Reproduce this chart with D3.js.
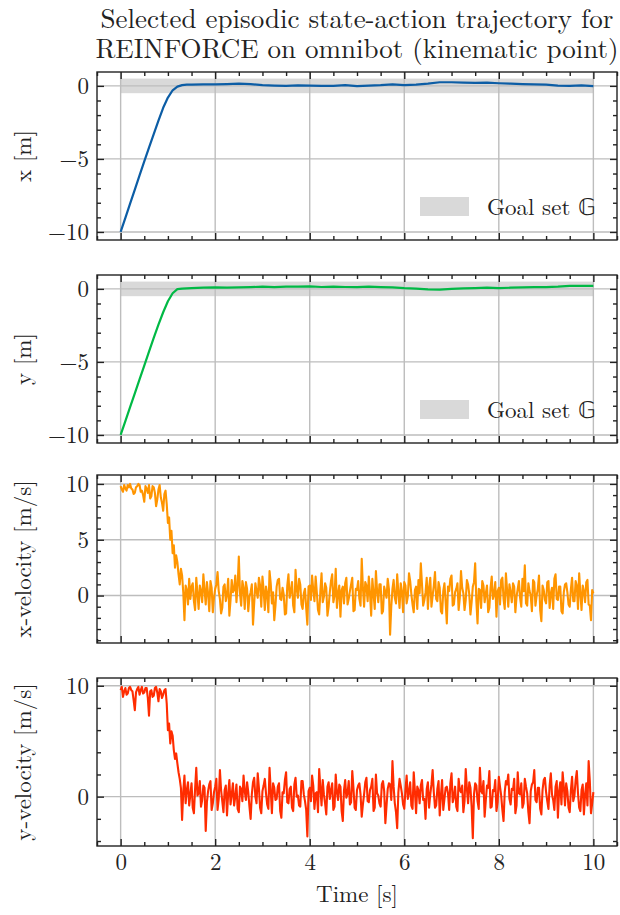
<!DOCTYPE html>
<html>
<head>
<meta charset="utf-8">
<script src="https://cdn.jsdelivr.net/npm/d3@7"></script>
<style>
body { margin: 0; background: #fff; }
.axis path { display: none; }
.axis line { stroke: #222; stroke-width: 1.4; }
</style>
</head>
<body>
<div class="chart"></div>
<script>
//position samples (s)
const posTimes = [0, 0.1, 0.2, 0.3, 0.4, 0.5, 0.6, 0.7, 0.8, 0.9, 1.0, 1.1, 1.2, 1.3, 1.4,
    1.5, 1.75, 2, 2.25, 2.5, 2.75, 3, 3.25, 3.5, 3.75, 4, 4.25, 4.5, 4.75, 5, 5.25, 5.5, 5.75,
    6, 6.25, 6.5, 6.75, 7, 7.25, 7.5, 7.75, 8, 8.25, 8.5, 8.75, 9, 9.25, 9.5, 9.75, 10];

const xPosition = [-10, -9.03, -8.06, -7.1, -6.13, -5.17, -4.22, -3.3, -2.38, -1.5, -0.8, -0.3, -0.05, 0.05, 0.08,
    0.08, 0.1, 0.1, 0.12, 0.15, 0.12, 0.05, 0.02, 0.0, 0.03, 0.02, 0.0, 0.0, 0.05, -0.02, 0.02, 0.05, 0.1,
    0.05, 0.08, 0.15, 0.25, 0.25, 0.22, 0.2, 0.22, 0.18, 0.15, 0.12, 0.1, 0.08, 0.02, 0.0, 0.03, -0.02];

const yPosition = [-10, -9.05, -8.1, -7.15, -6.2, -5.25, -4.3, -3.36, -2.45, -1.6, -0.85, -0.3, -0.02, 0.02, 0.04,
    0.05, 0.08, 0.1, 0.08, 0.1, 0.12, 0.15, 0.12, 0.15, 0.15, 0.17, 0.13, 0.15, 0.13, 0.12, 0.15, 0.12, 0.1,
    0.05, 0.02, -0.03, -0.05, 0.0, 0.03, 0.05, 0.08, 0.05, 0.08, 0.1, 0.12, 0.12, 0.15, 0.2, 0.2, 0.2];

//velocity actions, one every 0.025 s
const velStep = 0.025;
const xVelocity = [
    9.8, 9.5, 9.3, 9.9, 9.6, 9.4, 9.9, 9.7, 10.0, 9.6, 9.5, 9.1, 9.2, 9.7, 9.8, 10.0, 9.9, 9.3, 9.4, 9.0,
    8.4, 9.8, 9.6, 9.2, 9.9, 8.7, 8.9, 9.8, 9.7, 9.2, 8.0, 8.6, 9.5, 9.9, 8.8, 8.3, 7.6, 9.1, 9.4, 8.2,
    6.5, 7.0, 5.0, 5.8, 3.8, 4.5, 2.5, 3.6, 3.0, 1.9, 1.0, 2.4, 1.8, 0.3, -2.2, 0.9, 0.5, -0.8, 1.5, -0.3,
    0.8, 1.1, -0.5, -1.3, 1.6, 0.2, -1.2, 0.9, 0.4, -0.6, 1.9, 0.5, -0.8, 1.2, 0.2, -1.4, 1.3, 0.7, -1.5, -0.2,
    0.6, 1.0, 2.1, 0.4, -0.3, -1.6, -1.1, 0.8, 1.0, -0.5, 0.1, 1.5, -1.8, -0.4, 1.4, 0.3, 0.5, 1.8, -0.6, 0.9,
    3.5, 0.2, -0.9, 1.3, 0.7, -1.2, 1.2, 0.6, -1.4, -0.1, 0.3, 1.0, -2.6, -0.7, 1.1, 0.4, -0.2, 1.6, 0.9, -1.0,
    1.7, 0.5, -1.3, 0.8, 0.2, -1.5, 2.2, 1.1, -0.7, 0.3, -2.2, -0.9, 0.8, 1.4, 1.5, -0.3, -0.4, 0.7, 0.1, -1.7,
    -1.6, 0.9, 1.9, -0.2, 0.4, 1.2, -0.9, -1.5, 2.3, 0.6, -0.2, 1.5, 1.0, -0.8, -1.2, 0.2, 0.6, -1.1, -2.6, 0.8,
    0.9, -0.4, 1.8, 0.5, -0.5, 1.7, 0.3, -1.3, -1.7, 0.4, 2.0, -0.6, -0.1, 1.1, 0.7, -1.8, -1.0, 0.3, 1.3, 1.9,
    -0.6, 0.0, 2.4, -1.1, 0.2, 0.9, -1.9, 0.5, 0.8, -0.7, 1.1, 1.6, -0.8, -0.3, 0.4, 1.0, 1.6, -1.4, -1.3, 0.6,
    0.5, 1.3, -0.3, -0.9, 3.3, 0.7, -1.0, 1.2, 0.9, -0.5, 1.7, 0.2, -1.8, 1.5, 0.2, -1.2, 2.2, 0.4, -0.6, 1.0,
    1.0, -1.6, -1.4, 0.8, 0.3, -0.2, 1.5, 0.6, -3.5, -1.0, 0.6, 1.4, -0.2, -0.7, 1.9, 0.3, -1.1, 1.1, 0.4, -1.5,
    1.2, 0.9, -0.7, -0.1, 2.0, 1.3, 0.1, -0.8, -1.5, 0.5, 0.8, -1.2, 1.4, 0.2, 2.9, 1.0, -0.9, -0.4, 0.3, 1.6,
    -1.2, 0.7, 1.6, -1.0, 0.0, 0.9, 2.1, -0.3, -0.5, 1.2, 0.7, -1.4, -1.6, 0.4, 1.1, -0.6, -2.5, 0.8, 0.4, 1.5,
    1.8, -0.9, -0.8, 0.3, 0.6, 1.1, -1.3, -0.2, 2.2, 0.7, 0.2, -1.3, -0.4, 1.4, 1.0, 0.1, -1.7, -0.6, 0.8, 1.2,
    2.9, -0.5, -2.5, 0.6, 0.5, -1.1, 1.3, 0.9, -0.6, 0.2, 0.9, -1.5, -1.1, 0.7, 1.7, -0.3, 0.1, 1.2, -1.9, 0.4,
    0.7, -0.8, 1.4, 1.6, -0.3, -1.2, 2.0, 0.5, -1.0, 1.0, 0.3, -0.6, 1.1, 0.8, -1.5, -0.1, 0.6, 1.3, -0.2, -1.0,
    1.5, 0.4, 2.7, -0.7, -0.9, 1.1, 0.4, 0.0, -1.4, 1.4, 1.2, -0.9, 0.0, 0.6, 1.8, -1.3, -2.3, 0.9, 0.5, -0.4,
    -0.7, 1.2, 1.3, -1.1, 0.2, 0.7, -1.2, 1.5, 1.9, -0.3, -0.4, 0.8, 0.8, -1.4, -1.6, 0.3, 1.0, 1.1, 0.3, -0.8,
    -1.0, 0.6, 1.6, -0.5, -0.5, 1.3, 0.9, -1.2, 2.0, 0.2, -1.3, 0.9, 0.4, -0.6, 1.2, 1.4, -0.8, -0.9, -2.2, 0.5,
    0.2];

const yVelocity = [
    9.6, 9.9, 9.0, 9.5, 9.8, 9.2, 9.3, 9.8, 9.9, 9.6, 9.5, 8.7, 7.8, 9.4, 9.7, 9.9, 9.2, 9.6, 9.9, 9.3,
    9.4, 9.8, 9.8, 8.9, 7.3, 9.5, 9.6, 9.0, 9.1, 9.8, 9.9, 9.4, 8.6, 9.7, 9.5, 8.9, 9.2, 9.6, 9.7, 8.4,
    6.0, 6.6, 4.8, 5.9, 5.5, 4.2, 3.4, 3.9, 3.0, 2.2, 1.6, 0.8, -2.1, 0.5, 1.9, -0.6, 0.6, 1.3, -0.8, 0.2,
    1.2, -1.0, -1.5, 0.7, 2.6, 0.1, 0.3, 1.4, -0.9, -0.3, 1.0, 0.8, -3.1, -0.5, 0.5, 1.1, 1.4, -1.2, -0.6, 0.4,
    0.9, 1.6, -1.2, -0.2, 2.4, 0.6, -0.4, -1.4, 0.6, 1.0, -1.7, 0.3, 1.5, -0.7, 0.2, 1.2, -0.8, 0.0, 1.1, -1.1,
    -1.4, 0.9, 0.7, -0.4, 1.9, 0.5, -0.3, 1.3, 0.4, -0.9, -2.0, 0.2, 1.3, 1.7, 0.0, -0.6, 2.1, 0.8, -1.0, -1.5,
    0.5, 1.0, 1.6, 0.3, -0.7, -1.1, 2.6, 0.6, -1.5, 1.2, 0.8, -0.3, -0.2, 0.9, 1.2, -1.3, -1.9, 0.4, 0.3, 1.5,
    2.2, -0.5, -0.6, 0.7, 0.9, -1.0, -1.3, 1.1, 1.7, 0.0, 0.1, -0.8, -0.9, 1.4, 1.4, 0.2, -0.4, -1.2, -3.6, 0.5,
    0.8, -0.4, 1.9, 1.0, -1.1, 0.3, 0.4, -1.4, 2.5, 0.8, -0.8, 1.5, 0.2, -0.6, -1.6, 0.9, 1.3, -0.2, 0.6, 1.2,
    -1.2, -0.9, 2.0, 0.4, -0.3, 1.1, 0.9, -1.3, -2.2, 0.6, 1.5, -0.1, 0.3, 1.4, -0.7, -0.5, 2.3, 0.8, -1.0, -1.2,
    0.6, 1.0, 1.2, 0.2, -1.8, -0.7, 0.2, 1.3, 1.7, -0.4, -0.5, 0.6, 0.9, 1.6, -1.3, -1.0, 2.0, 0.3, 0.1, -0.6,
    -0.9, 1.1, 1.4, 0.5, -2.4, -0.8, 0.7, 1.2, 1.1, -0.3, 3.2, 0.9, -0.6, -1.4, -2.85, 0.4, 1.6, 1.0, 0.3, -0.7,
    -1.1, 0.6, 1.9, -0.2, 0.4, 1.3, -0.8, -1.1, 2.2, 0.5, -1.5, 0.9, 0.6, -0.6, 1.0, 1.5, -0.3, -0.2, -2.0, 0.7,
    1.3, -1.0, 0.2, 1.1, 2.4, 0.4, -1.0, -0.8, 0.7, 1.4, -1.7, 0.1, 1.5, -1.2, -0.2, 0.8, 0.9, 0.3, -1.2, 1.2,
    2.1, -0.5, 0.0, 0.9, -0.9, -1.3, 1.6, 0.6, 0.4, 1.0, -1.4, -0.4, 2.5, 0.7, -0.6, 1.3, 0.8, -0.9, -3.75, 0.2,
    1.2, 1.0, -0.4, -1.1, 2.6, 0.5, 0.3, 1.4, -1.8, -0.3, 1.0, 0.8, 2.3, -1.0, -0.9, 0.6, 0.5, 1.5, -1.3, -0.5,
    1.8, 0.9, 0.1, -1.2, -2.2, 0.4, 1.4, 1.1, 2.0, -0.2, -0.7, 0.7, 0.6, 1.6, -1.5, -0.8, 2.2, 0.3, 0.2, 1.2,
    -1.0, -0.6, 1.6, 0.9, 0.3, -1.4, -2.4, 0.5, 1.1, 1.3, 2.4, -0.3, -0.5, 0.8, 0.8, -1.1, -1.6, 0.6, 1.5, 1.7,
    0.4, -0.4, -1.1, 1.0, 2.1, 0.2, -0.3, -1.2, 0.9, 1.4, -1.9, 0.5, 1.3, -0.7, 2.2, 0.9, -0.8, 1.2, 0.5, -1.0,
    -1.4, 0.6, 1.8, -0.4, 0.1, 1.5, 2.3, 0.3, -1.0, -1.3, 0.6, 1.1, -1.6, 0.2, 1.2, -0.8, 3.2, 1.4, -1.5, -0.6,
    0.4];

//axis tick values
const timeTicks = [0, 2, 4, 6, 8, 10];
const posTicks = [-10, -5, 0];
const xVelTicks = [0, 5, 10];
const yVelTicks = [0, 10];
const goalHalfWidth = 0.5;

const titleLines = ['Selected episodic state-action trajectory for', 'REINFORCE on omnibot (kinematic point)'];

//build panel list
const toPoints = (ts, vs) => vs.map((v, i) => ({t: ts[i], v: v}));
const velTimes = xVelocity.map((d, i) => i * velStep);

const panels = [
    {label: 'x [m]', color: '#0C5DA5', data: toPoints(posTimes, xPosition), domain: [-10.55, 0.95], ticks: posTicks, minor: 1, goal: true},
    {label: 'y [m]', color: '#00B945', data: toPoints(posTimes, yPosition), domain: [-10.55, 0.95], ticks: posTicks, minor: 1, goal: true},
    {label: 'x-velocity [m/s]', color: '#FF9500', data: toPoints(velTimes, xVelocity), domain: [-4.25, 10.8], ticks: xVelTicks, minor: 1, goal: false},
    {label: 'y-velocity [m/s]', color: '#FF2C00', data: toPoints(velTimes, yVelocity), domain: [-4.45, 10.7], ticks: yVelTicks, minor: 2, goal: false}
];

const FONT = '"Latin Modern Roman", "Liberation Serif", serif';
const width = 620, height = 915;
const left = 97, right = 617;
const panelTops = [72, 275, 475, 678];
const panelHeight = 168;

function minusFormat(d){
    return d < 0 ? '\u2212' + Math.abs(d) : String(d);
}

function range(a, b, step){
    const out = [];
    for (let v = a; v <= b + 1e-9; v += step) out.push(+v.toFixed(4));
    return out;
}

const svg = d3.select('.chart')
    .append('svg')
    .attr('width', width)
    .attr('height', height)
    .style('font-family', FONT);

//title, one text per line
svg.append('g')
    .selectAll('text')
    .data(titleLines)
    .enter()
    .append('text')
    .attr('text-anchor', 'middle')
    .attr('x', (left + right) / 2)
    .attr('y', (d, i) => 28 + i * 30)
    .style('font-family', FONT)
    .style('font-size', '27px')
    .style('fill', '#222')
    .text(d => d);

const xScale = d3.scaleLinear().domain([-0.5, 10.5]).range([left, right]);

panels.forEach((p, k) => {
    const top = panelTops[k];
    const yScale = d3.scaleLinear().domain(p.domain).range([top + panelHeight, top]);
    const g = svg.append('g').attr('class', 'panel');

    g.append('clipPath').attr('id', 'clip' + k)
        .append('rect')
        .attr('x', left).attr('y', top)
        .attr('width', right - left).attr('height', panelHeight);

    //goal band
    if (p.goal){
        g.append('rect')
            .attr('x', xScale(0))
            .attr('width', xScale(10) - xScale(0))
            .attr('y', yScale(goalHalfWidth))
            .attr('height', yScale(-goalHalfWidth) - yScale(goalHalfWidth))
            .style('fill', '#d9d9d9');
    }

    //grid
    g.append('g').selectAll('line').data(timeTicks).enter().append('line')
        .attr('x1', d => xScale(d)).attr('x2', d => xScale(d))
        .attr('y1', top).attr('y2', top + panelHeight)
        .style('stroke', '#bdbdbd').style('stroke-width', 1.4);
    g.append('g').selectAll('line').data(p.ticks).enter().append('line')
        .attr('x1', left).attr('x2', right)
        .attr('y1', d => yScale(d)).attr('y2', d => yScale(d))
        .style('stroke', '#bdbdbd').style('stroke-width', 1.4);

    //trajectory
    const line = d3.line().x(d => xScale(d.t)).y(d => yScale(d.v));
    g.append('path')
        .datum(p.data)
        .attr('clip-path', `url(#clip${k})`)
        .attr('d', line)
        .style('fill', 'none')
        .style('stroke', p.color)
        .style('stroke-width', p.goal ? 2.2 : 2.1)
        .style('stroke-linejoin', 'round');

    //legend
    if (p.goal){
        const lg = g.append('g').attr('transform', `translate(420, ${top + 125})`);
        lg.append('rect').attr('width', 49).attr('height', 19).style('fill', '#d9d9d9');
        lg.append('text').attr('x', 67).attr('y', 18)
            .style('font-family', FONT).style('font-size', '23px').style('fill', '#222')
            .text('Goal set \u{1D53E}');
    }

    //axes, ticks inward on all four sides
    const minorY = range(Math.ceil(p.domain[0]), p.domain[1], p.minor).filter(v => p.ticks.indexOf(v) < 0);
    const minorX = range(-0.5, 10.5, 0.5).filter(v => timeTicks.indexOf(v) < 0);

    const yAxisL = d3.axisLeft(yScale).tickValues(p.ticks).tickFormat(minusFormat).tickSizeInner(-7).tickSizeOuter(0).tickPadding(8);
    const yAxisR = d3.axisRight(yScale).tickValues(p.ticks).tickFormat('').tickSizeInner(-7).tickSizeOuter(0);
    const yMinL = d3.axisLeft(yScale).tickValues(minorY).tickFormat('').tickSizeInner(-4).tickSizeOuter(0);
    const yMinR = d3.axisRight(yScale).tickValues(minorY).tickFormat('').tickSizeInner(-4).tickSizeOuter(0);
    const xAxisB = d3.axisBottom(xScale).tickValues(timeTicks).tickFormat(k === 3 ? minusFormat : '').tickSizeInner(-7).tickSizeOuter(0).tickPadding(8);
    const xAxisT = d3.axisTop(xScale).tickValues(timeTicks).tickFormat('').tickSizeInner(-7).tickSizeOuter(0);
    const xMinB = d3.axisBottom(xScale).tickValues(minorX).tickFormat('').tickSizeInner(-4).tickSizeOuter(0);
    const xMinT = d3.axisTop(xScale).tickValues(minorX).tickFormat('').tickSizeInner(-4).tickSizeOuter(0);

    const yl = g.append('g').attr('class', 'axis').attr('transform', `translate(${left},0)`).call(yAxisL);
    yl.selectAll('text').style('font-size', '23px').style('font-family', FONT).style('fill', '#222');
    g.append('g').attr('class', 'axis').attr('transform', `translate(${right},0)`).call(yAxisR);
    g.append('g').attr('class', 'axis').attr('transform', `translate(${left},0)`).call(yMinL);
    g.append('g').attr('class', 'axis').attr('transform', `translate(${right},0)`).call(yMinR);
    const xb = g.append('g').attr('class', 'axis').attr('transform', `translate(0,${top + panelHeight})`).call(xAxisB);
    xb.selectAll('text').style('font-size', '23px').style('font-family', FONT).style('fill', '#222');
    g.append('g').attr('class', 'axis').attr('transform', `translate(0,${top})`).call(xAxisT);
    g.append('g').attr('class', 'axis').attr('transform', `translate(0,${top + panelHeight})`).call(xMinB);
    g.append('g').attr('class', 'axis').attr('transform', `translate(0,${top})`).call(xMinT);

    //frame
    g.append('rect')
        .attr('x', left).attr('y', top)
        .attr('width', right - left).attr('height', panelHeight)
        .style('fill', 'none').style('stroke', '#222').style('stroke-width', 1.4);

    //y label
    g.append('text')
        .attr('transform', `translate(31, ${top + panelHeight / 2}) rotate(-90)`)
        .attr('text-anchor', 'middle')
        .style('font-family', FONT)
        .style('font-size', '23px')
        .style('fill', '#222')
        .text(p.label);
});

//x label
svg.append('text')
    .attr('x', (left + right) / 2)
    .attr('y', 902)
    .attr('text-anchor', 'middle')
    .style('font-family', FONT)
    .style('font-size', '23px')
    .style('fill', '#222')
    .text('Time [s]');
</script>
</body>
</html>
